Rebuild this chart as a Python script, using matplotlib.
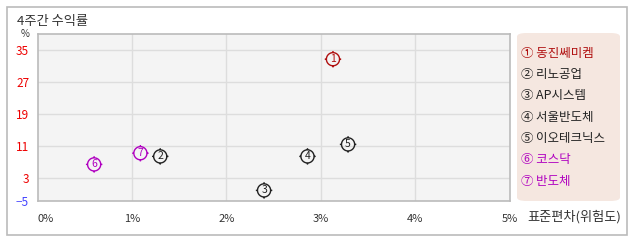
import matplotlib
matplotlib.use("Agg")
import matplotlib.pyplot as plt
import numpy as np
from matplotlib.path import Path
from matplotlib.patches import FancyBboxPatch, Rectangle

plt.rcParams['font.family'] = ['Noto Sans CJK KR', 'DejaVu Sans']

names = ["동진쎄미켐", "리노공업", "AP시스템", "서울반도체", "이오테크닉스", "코스닥", "반도체"]
labels = ["① ", "②\u2009", "③\u2009", "④\u2009", "⑤\u2009", "⑥ ", "⑦\u2009"]
risk = [3.13, 1.30, 2.40, 2.86, 3.29, 0.60, 1.09]
ret = [32.7, 8.4, -0.1, 8.4, 11.4, 6.4, 9.2]
colors = ["#b01010", "#222222", "#222222", "#222222", "#222222", "#b000c0", "#b000c0"]
yticks = [-5, 3, 11, 19, 27, 35]
xticks = [0, 1, 2, 3, 4, 5]
xticklabels = ["0%", "1%", "2%", "3%", "4%", "5%"]

W, H = 638, 242
fig = plt.figure(figsize=(W / 100, H / 100), dpi=100)

def fx(px):
    return px / W

def fy(py):
    return 1 - py / H

# outer border
fig.patches.append(Rectangle((fx(6.5), fy(235)), fx(627) - fx(6.5), fy(7) - fy(235),
                             transform=fig.transFigure, fill=False, edgecolor="#bbbbbb", lw=1.2))

ymin, ymax = -2.75, 39.0
ax = fig.add_axes([fx(37.5), fy(201), fx(509.5) - fx(37.5), fy(34) - fy(201)])
ax.set_facecolor("#f4f4f4")
ax.set_xlim(0, 5)
ax.set_ylim(ymin, ymax)
for x in [1, 2, 3, 4]:
    ax.axvline(x, color="#dddddd", lw=1, zorder=0)
for y in yticks[1:]:
    ax.axhline(y, color="#dddddd", lw=1, zorder=0)
for s in ax.spines.values():
    s.set_color("#bbbbbb")
    s.set_linewidth(1.2)
ax.tick_params(length=0)
ax.set_xticks(xticks)
ax.set_xticklabels(xticklabels, fontsize=8, color="#333333")
# the lowest label (-5) sits at the bottom edge of the axis
ypos = [ymin] + yticks[1:]
ax.set_yticks(ypos)
ax.set_yticklabels(["\u22125" if v < 0 else str(v) for v in yticks], fontsize=8.5)
for t, v in zip(ax.get_yticklabels(), yticks):
    t.set_color("#4444ff" if v < 0 else "#ee0000")
ax.tick_params(axis='y', pad=6)
ax.tick_params(axis='x', pad=9)
xl = ax.get_xticklabels()
xl[0].set_ha("left")

# marker: circle with four ticks
theta = np.linspace(0, 2 * np.pi, 40)
verts = [(np.cos(t), np.sin(t)) for t in theta]
codes = [Path.MOVETO] + [Path.LINETO] * (len(verts) - 1)
for (a, b) in [((0, 1), (0, 1.25)), ((0, -1), (0, -1.25)), ((1, 0), (1.25, 0)), ((-1, 0), (-1.25, 0))]:
    verts += [a, b]
    codes += [Path.MOVETO, Path.LINETO]
mpath = Path(verts, codes)

for i in range(len(names)):
    ax.scatter(risk[i], ret[i], marker=mpath, s=140, facecolors="none",
               edgecolors=colors[i], linewidths=1.0, zorder=3)
    ax.text(risk[i], ret[i], str(i + 1), ha="center", va="center", fontsize=7.5,
            color=colors[i], zorder=4)

fig.text(fx(17), fy(21), "4주간 수익률", fontsize=9.5, color="#333333", va="center", ha="left")
fig.text(fx(25), fy(34), "%", fontsize=7, color="#333333", va="center", ha="center")
fig.text(fx(527), fy(217), "표준편차(위험도)", fontsize=9.5, color="#333333", va="center", ha="left")

# legend box
fig.patches.append(FancyBboxPatch((fx(517), fy(201)), fx(620) - fx(517), fy(33) - fy(201),
                                  boxstyle="round,pad=0,rounding_size=0.015",
                                  transform=fig.transFigure, facecolor="#f5e7e0",
                                  edgecolor="none"))
for i in range(len(names)):
    fig.text(fx(521), fy(53.3 + i * 21.33), labels[i] + names[i], fontsize=9,
             color=colors[i], va="center", ha="left")

fig.savefig("out.png", dpi=100)
